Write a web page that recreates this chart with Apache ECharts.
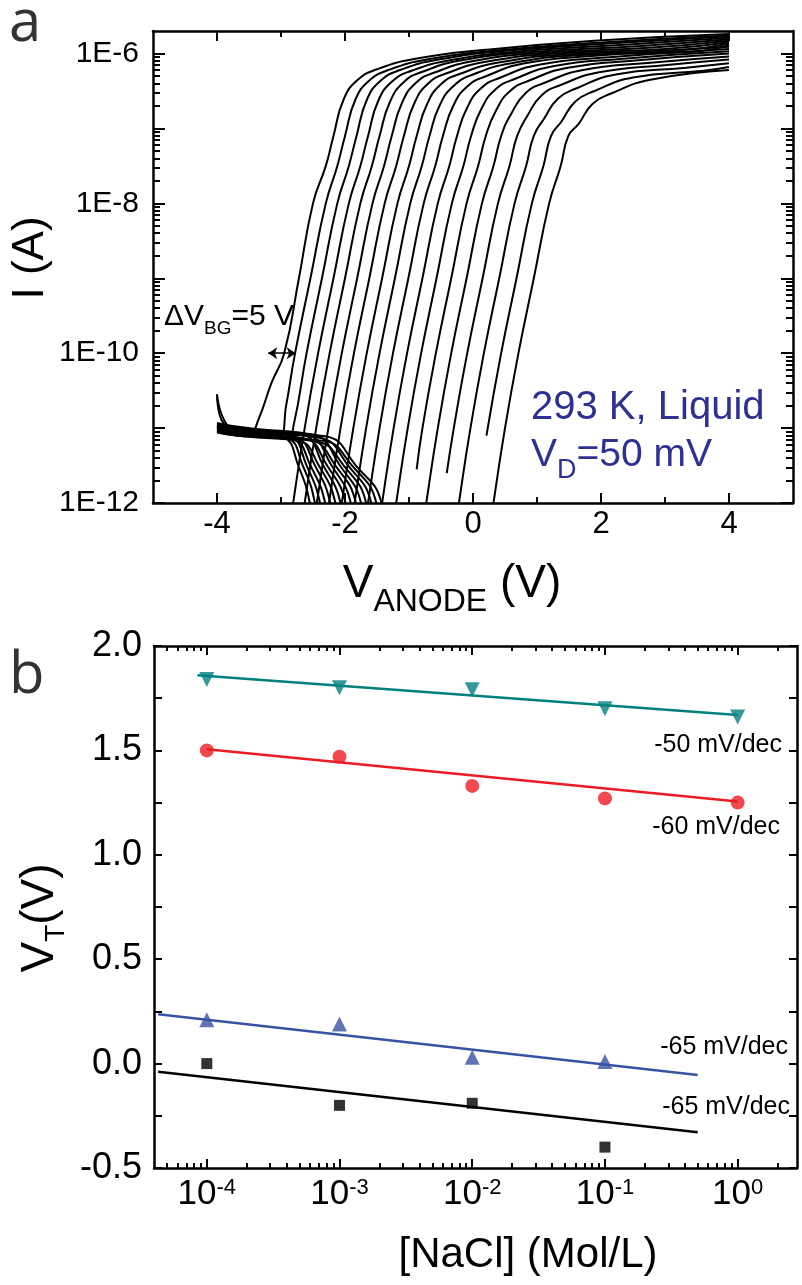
<!DOCTYPE html>
<html><head><meta charset="utf-8">
<script src="https://cdn.jsdelivr.net/npm/echarts@6/dist/echarts.min.js"></script>
<style>html,body{margin:0;padding:0;background:#fff}#c{width:802px;height:1285px}</style>
</head><body><div id="c"></div>
<script>
const FONT = "'Liberation Sans', Arial, Helvetica, sans-serif";

// ---------- Panel a : I(V_ANODE) curves, points are [V_ANODE (V), log10 I (A)] ----------
const curve00 = [[-4,-10.98],[-3.8,-11.02],[-3.6,-11.08],[-3.5,-11.1],[-3.35,-10.88],[-3.15,-10.4],[-2.95,-10.0],[-2.72,-9.0],[-2.5,-8.0],[-2.3,-7.5],[-2.18,-7.1],[-2.02,-6.61],[-1.8,-6.35],[-1.5,-6.21],[-0.9,-6.07],[0.2,-5.95],[1.9,-5.83],[4,-5.74]];
const curve01 = [[-4,-11.02],[-3.8,-11.0],[-3.5,-11.05],[-3.2,-11.1],[-3.02,-11.1],[-2.92,-10.7],[-2.78,-10.0],[-2.54,-9.0],[-2.3,-8.0],[-2.12,-7.5],[-2.0,-7.1],[-1.84,-6.62],[-1.62,-6.36],[-1.32,-6.22],[-0.72,-6.08],[0.38,-5.96],[2.08,-5.85],[4,-5.76]];
const curve02 = [[-4,-10.55],[-3.85,-10.95],[-3.6,-11.05],[-3.2,-11.1],[-2.9,-11.15],[-2.8,-10.95],[-2.6,-10.0],[-2.36,-9.0],[-2.12,-8.0],[-1.94,-7.5],[-1.82,-7.1],[-1.66,-6.62],[-1.44,-6.36],[-1.14,-6.22],[-0.54,-6.08],[0.56,-5.96],[2.26,-5.86],[4,-5.77]];
const curve03 = [[-4,-10.97],[-3.7,-11.03],[-3.3,-11.06],[-2.95,-11.12],[-2.73,-11.5],[-2.55,-12],[-2.47,-12.6],null,[-2.91,-12.6],[-2.81,-12],[-2.63,-11],[-2.42,-10],[-2.18,-9],[-1.94,-8],[-1.76,-7.5],[-1.64,-7.1],[-1.48,-6.63],[-1.26,-6.37],[-0.96,-6.23],[-0.36,-6.09],[0.74,-5.97],[2.44,-5.88],[4,-5.79]];
const curve04 = [[-4,-11.0],[-3.7,-11.05],[-3.3,-11.08],[-2.9,-11.13],[-2.66,-11.5],[-2.47,-12],[-2.39,-12.6],null,[-2.73,-12.6],[-2.63,-12],[-2.45,-11],[-2.24,-10],[-2.0,-9],[-1.76,-8],[-1.58,-7.5],[-1.46,-7.1],[-1.3,-6.65],[-1.08,-6.38],[-0.78,-6.24],[-0.18,-6.09],[0.92,-5.98],[2.62,-5.9],[4,-5.81]];
const curve05 = [[-4,-10.95],[-3.7,-11.0],[-3.3,-11.04],[-2.86,-11.1],[-2.6,-11.5],[-2.39,-12],[-2.31,-12.6],null,[-2.54,-12.6],[-2.44,-12],[-2.26,-11],[-2.05,-10],[-1.81,-9],[-1.57,-8],[-1.39,-7.5],[-1.27,-7.1],[-1.11,-6.66],[-0.89,-6.39],[-0.59,-6.25],[0.01,-6.1],[1.11,-5.99],[2.81,-5.92],[4,-5.83]];
const curve06 = [[-4,-11.03],[-3.7,-11.08],[-3.3,-11.1],[-2.81,-11.15],[-2.54,-11.5],[-2.31,-12],[-2.23,-12.6],null,[-2.35,-12.6],[-2.25,-12],[-2.07,-11],[-1.86,-10],[-1.62,-9],[-1.38,-8],[-1.2,-7.5],[-1.08,-7.1],[-0.92,-6.67],[-0.7,-6.4],[-0.4,-6.26],[0.2,-6.11],[1.3,-6.0],[3.0,-5.94],[4,-5.85]];
const curve07 = [[-4,-10.98],[-3.7,-11.02],[-3.3,-11.05],[-2.77,-11.12],[-2.47,-11.5],[-2.23,-12],[-2.15,-12.6],null,[-2.15,-12.6],[-2.05,-12],[-1.87,-11],[-1.66,-10],[-1.42,-9],[-1.18,-8],[-1.0,-7.5],[-0.88,-7.1],[-0.72,-6.68],[-0.5,-6.41],[-0.2,-6.27],[0.4,-6.12],[1.5,-6.01],[3.2,-5.96],[4,-5.87]];
const curve08 = [[-4,-11.05],[-3.7,-11.1],[-3.3,-11.12],[-2.72,-11.17],[-2.41,-11.5],[-2.15,-12],[-2.07,-12.6],null,[-1.95,-12.6],[-1.85,-12],[-1.67,-11],[-1.46,-10],[-1.22,-9],[-0.98,-8],[-0.8,-7.5],[-0.68,-7.1],[-0.52,-6.69],[-0.3,-6.43],[0.0,-6.28],[0.6,-6.13],[1.7,-6.02],[3.4,-5.98],[4,-5.89]];
const curve09 = [[-4,-10.93],[-3.7,-10.98],[-3.3,-11.02],[-2.67,-11.08],[-2.34,-11.5],[-2.07,-12],[-1.99,-12.6],null,[-1.74,-12.6],[-1.64,-12],[-1.46,-11],[-1.25,-10],[-1.01,-9],[-0.77,-8],[-0.59,-7.5],[-0.47,-7.1],[-0.31,-6.7],[-0.09,-6.44],[0.21,-6.3],[0.81,-6.13],[1.91,-6.03],[4,-5.91]];
const curve10 = [[-4,-11.0],[-3.7,-11.06],[-3.3,-11.09],[-2.63,-11.14],[-2.28,-11.5],[-1.99,-12],[-1.91,-12.6],null,[-1.52,-12.6],[-1.42,-12],[-1.24,-11],[-1.03,-10],[-0.79,-9],[-0.55,-8],[-0.37,-7.5],[-0.25,-7.1],[-0.09,-6.72],[0.13,-6.46],[0.43,-6.32],[1.03,-6.15],[2.13,-6.05],[4,-5.94]];
const curve11 = [[-4,-10.55],[-3.85,-10.97],[-3.3,-11.04],[-2.58,-11.1],[-2.21,-11.5],[-1.91,-12],[-1.83,-12.6],null,[-1.3,-12.6],[-1.2,-12],[-1.02,-11],[-0.81,-10],[-0.57,-9],[-0.33,-8],[-0.15,-7.5],[-0.03,-7.1],[0.13,-6.74],[0.35,-6.48],[0.65,-6.34],[1.25,-6.17],[2.35,-6.07],[4,-5.97]];
const curve12 = [[-4,-11.02],[-3.7,-11.07],[-3.3,-11.1],[-2.54,-11.16],[-2.15,-11.5],[-1.83,-12],[-1.75,-12.6],null,[-0.88,-11.55],[-0.79,-11],[-0.58,-10],[-0.34,-9],[-0.1,-8],[0.08,-7.5],[0.2,-7.1],[0.36,-6.76],[0.58,-6.5],[0.88,-6.36],[1.48,-6.19],[2.58,-6.09],[4,-6.0]];
const curve13 = [[-4,-10.96],[-3.7,-11.0],[-3.3,-11.03],[-2.49,-11.09],[-2.08,-11.5],[-1.75,-12],[-1.67,-12.6],null,[-0.83,-12.6],[-0.73,-12],[-0.55,-11],[-0.34,-10],[-0.1,-9],[0.14,-8],[0.32,-7.5],[0.44,-7.1],[0.6,-6.8],[0.82,-6.53],[1.12,-6.39],[1.72,-6.22],[2.82,-6.12],[4,-6.04]];
const curve14 = [[-4,-11.04],[-3.7,-11.09],[-3.3,-11.12],[-2.44,-11.18],[-2.02,-11.5],[-1.67,-12],[-1.59,-12.6],null,[-0.41,-11.6],[-0.3,-11],[-0.09,-10],[0.15,-9],[0.39,-8],[0.57,-7.5],[0.69,-7.1],[0.85,-6.83],[1.07,-6.56],[1.37,-6.42],[1.97,-6.25],[3.07,-6.15],[4,-6.08]];
const curve15 = [[-4,-10.99],[-3.7,-11.04],[-3.3,-11.07],[-2.4,-11.13],[-1.95,-11.5],[-1.59,-12],[-1.51,-12.6],null,[-0.32,-12.6],[-0.22,-12],[-0.04,-11],[0.17,-10],[0.41,-9],[0.65,-8],[0.83,-7.5],[0.95,-7.1],[1.11,-6.87],[1.33,-6.6],[1.63,-6.46],[2.23,-6.28],[3.33,-6.19],[4,-6.13]];
const curve16 = [[-4,-11.06],[-3.7,-11.1],[-3.3,-11.13],[-2.35,-11.17],[-1.89,-11.5],[-1.51,-12],[-1.43,-12.6],null,[0.21,-11.1],[0.44,-10],[0.68,-9],[0.92,-8],[1.1,-7.5],[1.22,-7.1],[1.38,-6.91],[1.6,-6.64],[1.9,-6.5],[2.5,-6.32],[3.6,-6.23],[4,-6.18]];
const curve17 = [[-4,-10.97],[-3.7,-11.01],[-3.3,-11.05],[-2.31,-11.11],[-1.83,-11.5],[-1.43,-12],[-1.35,-12.6],null,[0.22,-12.6],[0.32,-12],[0.5,-11],[0.71,-10],[0.95,-9],[1.19,-8],[1.37,-7.5],[1.49,-7.1],[1.65,-6.94],[1.87,-6.67],[2.17,-6.53],[2.77,-6.35],[4,-6.22]];
const curvesA = [curve00,curve01,curve02,curve03,curve04,curve05,curve06,curve07,curve08,curve09,curve10,curve11,curve12,curve13,curve14,curve15,curve16,curve17];

// arrow "ΔV_BG = 5 V" between first two curves at I = 1E-10
const arrowV = [-3.2, -2.77];
const arrowI = 1e-10;

// ---------- Panel b : threshold voltage vs [NaCl] ----------
const nacl    = [1e-4, 1e-3, 1e-2, 1e-1, 1];
const vtTeal  = [1.84, 1.80, 1.79, 1.70, 1.66];
const vtRed   = [1.50, 1.47, 1.33, 1.27, 1.25];
const vtBlue  = [0.21, 0.19, 0.03, 0.01];
const vtBlack = [0.00, -0.20, -0.19, -0.40];
const fitTeal  = [[8.5e-5, 1.86], [1, 1.67]];
const fitRed   = [[1e-4, 1.505], [1, 1.255]];
const fitBlue  = [[4.3e-5, 0.236], [0.5, -0.055]];
const fitBlack = [[4.3e-5, -0.039], [0.5, -0.329]];
const slopeLabels = ['-50 mV/dec', '-60 mV/dec', '-65 mV/dec', '-65 mV/dec'];

// ---------- tick label arrays ----------
const aXLabels = [-4, -2, 0, 2, 4];
const aXMinor  = [-3, -1, 1, 3];
const aYLabels = [1e-12, 1e-10, 1e-8, 1e-6];
const aYMajor  = [1e-12, 1e-11, 1e-10, 1e-9, 1e-8, 1e-7, 1e-6];
const bXLabels = [1e-4, 1e-3, 1e-2, 1e-1, 1];
const bYLabels = [-0.5, 0, 0.5, 1.0, 1.5, 2.0];

const aYMinor = [];
for (let e = -12; e <= -7; e++) for (let m = 2; m <= 9; m++) aYMinor.push(+(m * Math.pow(10, e)).toPrecision(3));
const bXMinor = [];
for (let e = -5; e <= 0; e++) for (let m = 2; m <= 9; m++) { const v = +(m * Math.pow(10, e)).toPrecision(3); if (v > 4e-5 && v < 2.8) bXMinor.push(v); }

const BLACK = '#000';
const AXW = 2.5;

function ax(o) {
  return Object.assign({
    splitLine: { show: false },
    axisLine: { show: false, onZero: false, lineStyle: { color: BLACK, width: AXW } },
    axisTick: { show: false },
    axisLabel: { show: false },
    splitArea: { show: false }
  }, o);
}
function ticks(vals, len) {
  return { show: true, inside: true, length: len, customValues: vals, lineStyle: { color: BLACK, width: 2 } };
}
const lineOn = { show: true, onZero: false, lineStyle: { color: BLACK, width: AXW } };

const aX = { type: 'value', min: -5, max: 5, gridIndex: 0 };
const aY = { type: 'log', logBase: 10, min: 1e-12, max: 2e-6, gridIndex: 0 };
const bX = { type: 'log', logBase: 10, min: 4e-5, max: 2.8, gridIndex: 1 };
const bY = { type: 'value', min: -0.5, max: 2.0, interval: 0.25, gridIndex: 1 };

const xAxis = [
  ax(Object.assign({}, aX, { position: 'bottom', axisLine: lineOn, axisTick: ticks(aXLabels, 10),
    axisLabel: { show: true, customValues: aXLabels, margin: 6, color: BLACK, fontFamily: FONT, fontSize: 31,
      formatter: v => String(v) } })),
  ax(Object.assign({}, aX, { position: 'bottom', axisTick: ticks(aXMinor, 6) })),
  ax(Object.assign({}, aX, { position: 'top', axisLine: lineOn, axisTick: ticks(aXLabels, 10) })),
  ax(Object.assign({}, aX, { position: 'top', axisTick: ticks(aXMinor, 6) })),
  ax(Object.assign({}, bX, { position: 'bottom', axisLine: lineOn, axisTick: ticks(bXLabels, 9),
    axisLabel: { show: true, customValues: bXLabels, margin: 9, color: BLACK, fontFamily: FONT,
      formatter: v => '{b|10}{s|' + Math.round(Math.log10(v)) + '}',
      rich: { b: { fontSize: 35, fontFamily: FONT, color: BLACK, verticalAlign: 'top' },
              s: { fontSize: 22, fontFamily: FONT, color: BLACK, verticalAlign: 'top' } } } })),
  ax(Object.assign({}, bX, { position: 'bottom', axisTick: ticks(bXMinor, 5) })),
  ax(Object.assign({}, bX, { position: 'top', axisLine: lineOn, axisTick: ticks(bXLabels, 9) })),
  ax(Object.assign({}, bX, { position: 'top', axisTick: ticks(bXMinor, 5) }))
];
const yAxis = [
  ax(Object.assign({}, aY, { position: 'left', axisLine: lineOn, axisTick: ticks(aYMajor, 12),
    axisLabel: { show: true, customValues: aYLabels, margin: 14, color: BLACK, fontFamily: FONT, fontSize: 30,
      formatter: v => '1E' + Math.round(Math.log10(v)) } })),
  ax(Object.assign({}, aY, { position: 'left', axisTick: ticks(aYMinor, 7) })),
  ax(Object.assign({}, aY, { position: 'right', axisLine: lineOn, axisTick: ticks(aYMajor, 12) })),
  ax(Object.assign({}, aY, { position: 'right', axisTick: ticks(aYMinor, 7) })),
  ax(Object.assign({}, bY, { position: 'left', axisLine: lineOn,
    axisTick: { show: true, inside: true, length: 8, lineStyle: { color: BLACK, width: 2 } },
    axisLabel: { show: true, customValues: bYLabels, margin: 12, color: BLACK, fontFamily: FONT, fontSize: 36,
      formatter: v => v.toFixed(1) } })),
  ax(Object.assign({}, bY, { position: 'right', axisLine: lineOn,
    axisTick: { show: true, inside: true, length: 8, lineStyle: { color: BLACK, width: 2 } } }))
];

const series = [];
curvesA.forEach((c, i) => {
  const s = {
    type: 'line', xAxisIndex: 0, yAxisIndex: 0, showSymbol: false, symbol: 'none',
    smooth: 0.5, clip: true, silent: true, animation: false,
    lineStyle: { color: BLACK, width: 2 },
    data: c.map(p => p ? [p[0], Math.pow(10, p[1])] : ['-', '-'])
  };
  if (i === 0) {
    s.markLine = { silent: true, symbol: ['arrow', 'arrow'], symbolSize: [9, 9], label: { show: false },
      lineStyle: { color: BLACK, width: 1.5, type: 'solid' }, animation: false,
      data: [[{ coord: [arrowV[0], arrowI] }, { coord: [arrowV[1], arrowI] }]] };
  }
  series.push(s);
});

function fitLine(d, color) {
  return { type: 'line', xAxisIndex: 4, yAxisIndex: 4, showSymbol: false, symbol: 'none', silent: true, animation: false,
    lineStyle: { color: color, width: 2.5 }, data: d };
}
function pts(y, symbol, size, color, rot) {
  return { type: 'scatter', xAxisIndex: 4, yAxisIndex: 4, symbol: symbol, symbolSize: size, symbolRotate: rot || 0,
    silent: true, animation: false, itemStyle: { color: color }, data: y.map((v, i) => [nacl[i], v]) };
}
const TEAL = '#00817f', RED = '#ec1c24', BLUE = '#3953a4';
series.push(fitLine(fitTeal, TEAL), fitLine(fitRed, RED), fitLine(fitBlue, BLUE), fitLine(fitBlack, BLACK));
series.push(pts(vtTeal, 'triangle', 15, TEAL, 180), pts(vtRed, 'circle', 14, RED), pts(vtBlue, 'triangle', 15, BLUE), pts(vtBlack, 'rect', 11, BLACK));

const subRich = (main, sub) => ({
  m: { fontSize: main, fontFamily: FONT, verticalAlign: 'top' },
  s: { fontSize: sub, fontFamily: FONT, verticalAlign: 'top', padding: [Math.round(main * 0.55), 0, 0, 0] }
});
function txt(x, y, text, size, opts) {
  opts = opts || {};
  return { type: 'text', x: x, y: y, rotation: opts.rot || 0, silent: true, z: 100,
    style: Object.assign({ text: text, fontSize: size, fontFamily: opts.family || FONT, fill: opts.color || BLACK,
      align: opts.align || 'left', verticalAlign: opts.va || 'middle' }, opts.rich ? { rich: opts.rich } : {}) };
}
const NAVY = '#2e3192';
const LETTER = "'Open Sans', 'DejaVu Sans', sans-serif";
const graphic = [
  txt(9, 24, 'a', 58, { family: LETTER, color: '#333' }),
  txt(9, 676, 'b', 58, { family: LETTER, color: '#333' }),
  txt(31, 258, 'I (A)', 44, { rot: Math.PI / 2, align: 'center' }),
  txt(452, 590, '{m|V}{s|ANODE}{m| (V)}', 46, { align: 'center', rich: subRich(46, 32) }),
  txt(44, 918, '{m|V}{s|T}{m|(V)}', 46, { rot: Math.PI / 2, align: 'center', rich: subRich(46, 28) }),
  txt(528, 1255, '[NaCl] (Mol/L)', 42, { align: 'center' }),
  txt(164, 320, '{m|ΔV}{s|BG}{m|=5 V}', 30, { rich: subRich(30, 19) }),
  txt(531, 408, '293 K, Liquid', 40, { color: NAVY }),
  txt(531, 460, '{m|V}{s|D}{m|=50 mV}', 39, { color: NAVY, rich: subRich(39, 27) }),
  txt(782, 745, slopeLabels[0], 25, { align: 'right' }),
  txt(780, 827, slopeLabels[1], 25, { align: 'right' }),
  txt(788, 1047, slopeLabels[2], 25, { align: 'right' }),
  txt(790, 1107, slopeLabels[3], 25, { align: 'right' })
];

const chart = echarts.init(document.getElementById('c'), null, { renderer: 'canvas' });
chart.setOption({
  backgroundColor: '#fff',
  animation: false,
  grid: [
    { left: 153, top: 31, width: 640, height: 472 },
    { left: 154, top: 646, width: 643, height: 522 }
  ],
  xAxis: xAxis,
  yAxis: yAxis,
  series: series,
  graphic: graphic
});
</script>
</body></html>
